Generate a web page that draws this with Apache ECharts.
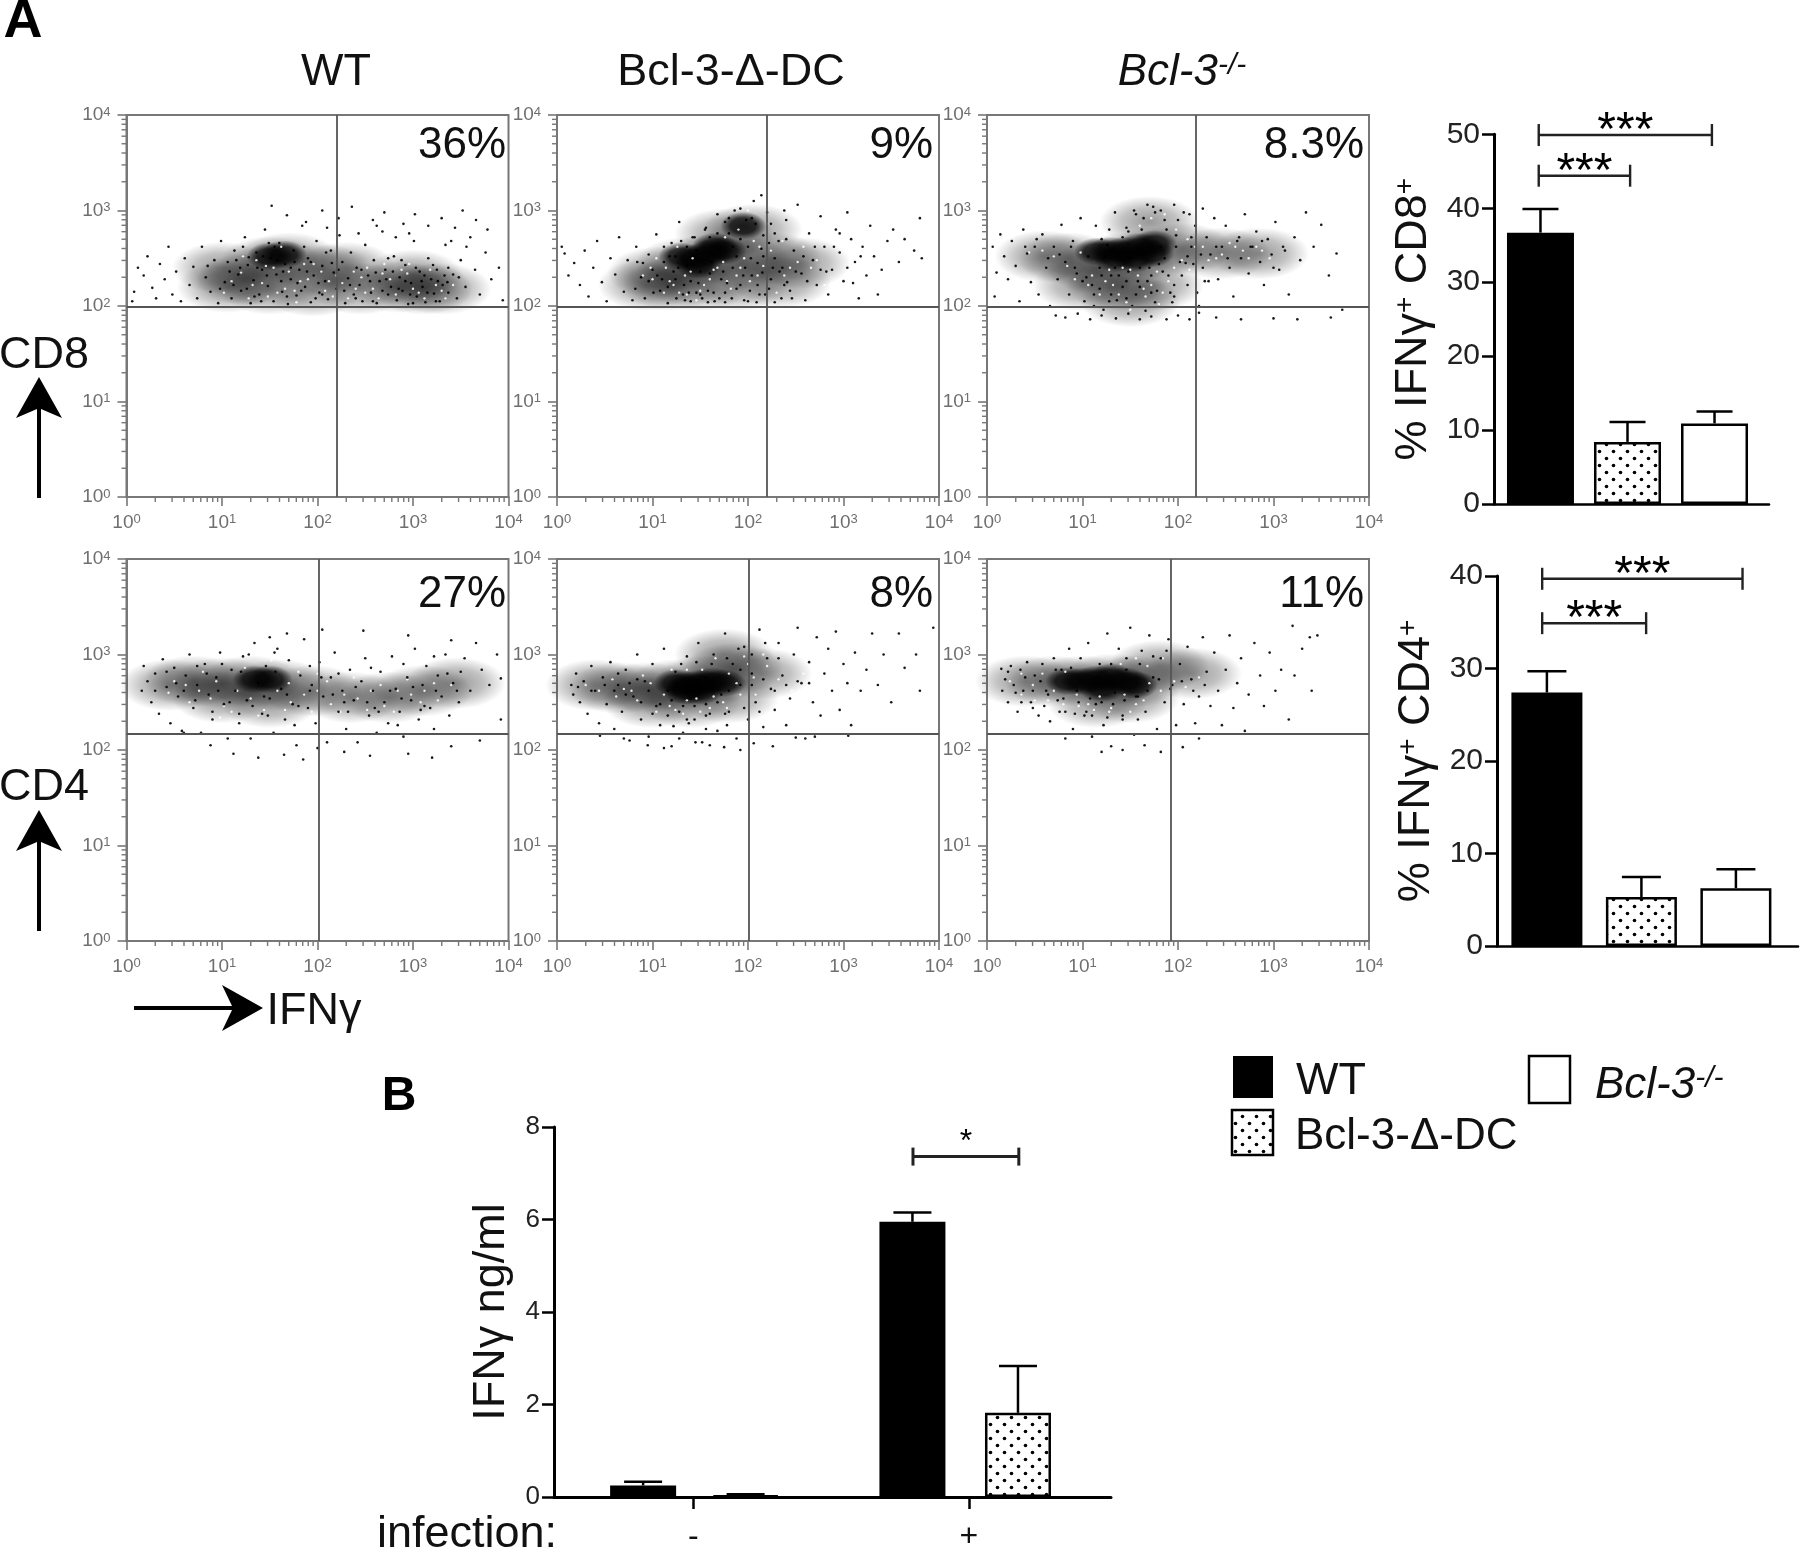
<!DOCTYPE html>
<html>
<head>
<meta charset="utf-8">
<style>html,body{margin:0;padding:0;background:#fff}#main{width:1800px;height:1548px}</style>
<script src="https://cdn.jsdelivr.net/npm/echarts@6/dist/echarts.min.js"></script>
</head>
<body>
<div id="main"></div>
<script>
// flow plots: points as [x, y] in hundredths of a decade (log10 x 100)
const wtCd8Haze = [[125,228],[150,246],[170,250],[205,238],[150,218],[195,216],[245,218],[285,220],[310,218],[330,218],[105,220],[100,240],[230,240],[300,232]];
const wtCd8Core = [[150,252],[165,254]];
const wtCd8Gaps = [[120,235],[132,222],[146,242],[158,214],[170,236],[182,226],[196,244],[208,216],[220,232],[232,208],[246,230],[258,218],[270,244],[282,212],[294,234],[306,214],[318,238],[330,216],[342,222],[110,226],[128,208],[142,224],[154,240],[166,218],[178,204],[190,228],[204,236],[216,210],[226,224],[238,236],[250,214],[264,208],[276,228],[288,238],[300,218],[312,208],[324,222],[102,214],[136,248],[162,262],[186,244],[122,252],[252,240],[296,244],[334,208],[148,210],[176,216],[212,226],[240,218],[268,234]];
const wtCd8Dots = [[8,215],[12,240],[6,205],[18,232],[22,252],[27,219],[31,208],[35,244],[40,228],[44,262],[48,212],[52,236],[57,205],[61,250],[66,222],[70,241],[74,208],[79,262],[83,230],[88,215],[92,248],[96,203],[99,268],
[103,225],[106,246],[110,208],[113,258],[117,233],[120,216],[124,272],[127,243],[130,203],[133,227],[136,256],[139,212],[142,238],[145,280],[148,221],[151,250],[154,205],[157,233],[160,266],[163,215],[166,244],[169,202],[172,228],[175,258],[178,211],[181,238],[184,284],[187,220],[190,250],[193,204],[196,232],[199,268],[202,214],[205,242],[208,226],[211,207],[214,258],[217,235],[220,218],[223,274],[226,246],[229,203],[232,229],[235,256],[238,212],
[241,240],[244,222],[247,205],[250,264],[253,232],[256,214],[259,248],[262,203],[265,226],[268,278],[271,238],[274,212],[277,220],[280,252],[283,206],[286,230],[289,216],[292,243],[295,202],[298,224],[301,268],[304,210],[307,236],[310,220],[313,204],[316,250],[319,228],[322,213],[325,238],[328,205],[331,222],[334,264],[337,214],
[342,233],[346,208],[350,248],[355,220],[360,272],[365,238],[370,212],[376,256],[382,228],[390,240],[394,206],
[152,305],[168,295],[188,288],[205,300],[222,292],[236,304],[258,290],[270,298],[290,286],[302,296],[316,284],[330,292],[344,282],[352,300],[366,290],[378,280],[210,282],[243,276],[262,284],[282,272],[296,276],[340,268],[356,262],
[112,222],[128,251],[141,205],[155,262],[119,240],[134,210],[147,232],[162,226],[176,246],[189,236],[201,224],[215,245],[228,216],[240,208],[255,226],[268,216],[279,236],[292,226],[303,240],[315,214],[326,226],[337,240],[209,256],[183,216],[168,210],[143,252],[126,218],[108,236],[98,218],[85,242],[246,238],[261,235],[274,250],[288,248],[300,203],[312,232],[324,205],[336,225],[348,230],[198,208],[222,238],[234,222],[258,205],[272,228],[285,218],[297,212],[309,226],[321,243],[333,232],[158,248],[172,240],[186,262],[193,246],[137,240],[122,262],[115,248],[149,266],[164,236],[179,224],[205,212]];

const dcCd8Haze = [[105,235],[135,245],[165,250],[195,245],[225,250],[150,222],[190,222],[205,280],[255,245],[120,222],[175,275],[95,222],[235,225]];
const dcCd8Core = [[130,252],[145,250],[160,255],[175,258],[148,243],[165,262],[195,284]];
const dcCd8Gaps = [[100,228],[114,240],[128,214],[140,236],[154,222],[168,240],[182,218],[196,250],[210,232],[224,258],[238,232],[252,246],[266,240],[280,222],[112,214],[126,262],[146,206],[160,228],[174,246],[188,232],[202,226],[216,242],[230,214],[244,240],[258,262],[272,248],[90,232],[104,250],[118,226],[134,232],[150,216],[164,238],[178,226],[192,240],[206,268],[220,286],[190,280],[176,272],[200,300],[212,262],[136,212],[98,240],[122,222],[142,250],[236,268]];
const dcCd8Dots = [[8,255],[12,232],[18,245],[5,262],[24,222],[29,258],[33,210],[38,240],[42,268],[47,225],[52,205],[56,250],[61,233],[65,272],[70,215],[74,248],[79,206],[83,262],[88,230],
[92,208],[96,254],[100,238],[104,275],[108,216],[112,246],[116,203],[120,266],[124,228],[128,288],[132,212],[136,242],[140,205],[144,272],[148,224],[152,208],[156,282],[160,234],[164,214],[168,296],[172,228],[176,204],[180,276],[184,240],[188,218],[192,302],[196,206],[200,262],[204,232],[208,286],[212,212],[216,252],[220,298],[224,228],[228,204],[232,268],
[236,240],[240,290],[244,216],[248,258],[252,306],[256,234],[260,206],[264,276],[268,248],[272,222],[276,294],[280,262],[284,212],[288,238],[292,280],[296,256],[300,226],[304,298],[308,270],[312,246],[316,208],[320,262],[324,232],[328,284],[332,252],[336,212],[340,238],[346,268],[352,280],[358,246],[364,270],[374,258],[380,292],[382,250],
[105,232],[118,252],[133,222],[146,258],[158,216],[171,260],[183,208],[197,240],[210,222],[222,266],[235,208],[198,290],[186,300],[206,310],[224,286],[238,300],[214,316],[176,288],[160,272],[143,244],[127,240],[110,228],[192,222],[203,250],[215,235],[228,250],[241,225],[178,224],[150,212],[125,208],[140,226],[165,205],[90,245],[82,218],[200,205],[218,212],
[112,262],[122,236],[138,214],[150,236],[162,246],[176,214],[188,252],[202,216],[214,260],[226,240],[238,222],[250,236],[262,226],[276,238],[290,262],[304,240],[318,252],[96,226],[84,246],[130,268],[142,272],[155,280],[168,276],[180,292],[192,270],[204,292],[216,274],[228,276],[240,270],[184,262],[174,236],[158,204],[146,214],[134,206],[116,220],[101,214],[209,204],[222,218],[233,236],[246,208],[258,252],[270,262],[282,236],[296,276],[310,224],[124,252],[136,262],[170,208],[195,232],[210,245]];

const koCd8Haze = [[85,250],[115,240],[145,250],[175,255],[205,260],[135,222],[175,222],[170,288],[245,255],[285,255],[100,222],[150,205],[60,252]];
const koCd8Core = [[115,257],[130,258],[145,258],[160,262],[175,265],[135,250],[155,250],[172,255]];
const koCd8Gaps = [[70,252],[84,242],[98,256],[110,232],[124,226],[138,212],[150,238],[164,218],[178,236],[190,226],[204,248],[218,262],[232,248],[246,254],[260,262],[274,250],[288,258],[58,258],[44,256],[118,212],[132,222],[146,204],[158,232],[172,222],[184,214],[196,240],[212,238],[120,276],[160,284],[172,292],[186,296],[198,280],[210,270],[226,262],[240,250],[254,266],[268,258],[282,262],[296,250],[92,228],[106,222],[128,238],[142,240],[166,210],[180,202],[150,196]];
const koCd8Dots = [[6,262],[10,235],[14,275],[8,210],[18,252],[22,228],[26,268],[30,242],[34,205],[38,280],[42,255],[46,225],[50,262],[54,212],[58,275],[62,240],[66,200],[70,262],[74,228],[78,285],[82,246],
[86,212],[90,268],[94,234],[98,292],[102,205],[106,252],[110,222],[114,284],[118,240],[122,196],[126,264],[130,212],[134,298],[138,232],[142,272],[146,208],[150,250],[154,300],[158,226],[162,280],[166,195],[170,240],[174,304],[178,216],[182,262],[186,290],[190,232],[194,204],[198,274],[202,246],[206,298],[210,222],[214,262],[218,284],[222,200],[226,240],
[230,272],[234,254],[238,292],[242,228],[246,262],[250,284],[254,240],[258,210],[262,268],[266,250],[270,296],[274,234],[278,262],[282,278],[286,246],[290,222],[294,270],[298,254],[302,288],[306,238],[310,262],[316,212],[322,272],[328,248],[334,298],[342,262],[350,285],[358,232],[366,255],[372,196],
[72,190],[82,188],[95,192],[108,186],[120,190],[135,187],[148,192],[160,186],[172,189],[188,186],[200,190],[212,186],[222,193],[240,188],[266,186],[300,187],[325,186],[360,188],
[100,226],[112,212],[124,252],[136,206],[148,236],[160,220],[172,214],[184,236],[196,222],[208,245],[220,214],[232,226],[156,296],[168,306],[182,300],[196,306],[212,296],[226,302],[146,282],[128,280],
[92,240],[104,230],[118,218],[130,232],[142,220],[156,212],[168,226],[180,244],[192,214],[204,232],[216,244],[228,226],[240,262],[252,250],[264,272],[276,262],[288,268],[300,240],[312,258],[88,262],[76,254],[64,250],[52,270],[40,262],[120,270],[148,278],[164,292],[176,298],[188,280],[200,290],[214,272],[152,200],[128,205],[112,200],[176,204],[196,210],[120,232],[134,240],[146,226],[160,240],[172,232],[186,250],[198,262],[210,252],[224,254]];

const wtCd4Haze = [[70,272],[100,270],[130,272],[160,268],[195,262],[235,255],[275,255],[310,262],[100,255],[150,250],[45,268],[345,270]];
const wtCd4Core = [[135,274],[150,274]];
const wtCd4Gaps = [[50,272],[62,268],[76,262],[88,254],[102,246],[116,262],[130,254],[144,242],[158,262],[172,250],[186,258],[200,262],[214,248],[228,258],[242,254],[256,262],[270,246],[284,262],[298,258],[312,262],[326,252],[340,268],[80,282],[94,272],[110,240],[124,286],[138,236],[152,294],[166,242],[180,282],[194,240],[210,272],[224,240],[238,276],[252,242],[266,268],[280,240],[294,274],[308,250],[322,270],[66,250],[44,260],[98,234],[170,270],[200,280]];
const wtCd4Dots = [[16,262],[18,288],[22,272],[26,250],[30,280],[34,238],[38,295],[42,266],[46,228],[50,286],[54,256],[58,220],[62,278],[66,300],[70,244],[74,268],[78,218],[82,290],[86,258],[90,232],[94,276],[98,302],[102,248],[106,212],[110,284],
[114,262],[118,228],[122,298],[126,252],[130,212],[134,312],[138,270],[142,238],[146,288],[150,254],[154,218],[158,306],[162,264],[166,232],[170,294],[174,248],[178,205],[182,278],[186,316],[190,244],[194,268],[198,228],[202,292],[206,256],[210,208],[214,276],[218,302],[222,240],[226,262],[230,222],[234,284],[238,252],
[242,208],[246,272],[250,296],[254,236],[258,262],[262,218],[266,282],[270,250],[274,228],[278,298],[282,264],[286,240],[290,214],[294,276],[298,252],[302,306],[306,232],[310,268],[314,288],[318,244],[322,222],[326,278],[330,256],[334,300],[338,236],[342,270],[348,250],[354,296],[360,262],[366,312],[372,284],[380,268],[388,300],[392,275],
[60,218],[88,205],[112,196],[138,192],[165,195],[185,190],[200,202],[228,198],[255,194],[295,196],[320,192],[340,204],[370,210],[392,232],[248,325],[295,320],[340,315],[205,326],[168,322],[150,318],
[60,262],[72,252],[84,280],[96,262],[108,250],[120,282],[132,246],[144,256],[156,282],[168,258],[180,246],[192,262],[204,276],[216,258],[228,250],[240,266],[252,250],[264,240],[276,262],[288,254],[300,266],[312,246],[324,262],[336,280],[346,262],[90,240],[118,238],[148,236],[176,226],[232,240],[260,244],[284,226],[308,242],[100,290],[128,300],[155,302],[52,270],[42,282],[30,262],[74,288],[192,288],[222,280],[256,286],[290,290],[322,298],[350,282]];

const dcCd4Haze = [[65,265],[95,265],[125,268],[155,272],[185,285],[215,280],[140,250],[100,250],[180,255],[40,268],[175,300]];
const dcCd4Core = [[125,270],[138,268],[150,270],[162,272],[174,270],[135,262],[150,262]];
const dcCd4Gaps = [[30,268],[44,262],[58,274],[70,264],[84,252],[98,270],[112,258],[124,242],[136,252],[150,240],[164,256],[178,244],[192,258],[206,276],[220,288],[180,280],[166,296],[196,298],[208,258],[232,274],[246,262],[258,280],[90,278],[104,240],[118,246],[132,238],[146,254],[160,244],[174,250],[188,270],[200,290],[78,262],[62,256],[216,300],[152,284],[136,284],[120,284]];
const dcCd4Dots = [[15,268],[17,258],[20,280],[24,250],[28,272],[32,238],[36,288],[40,262],[44,228],[48,276],[52,248],[56,292],[60,222],[64,268],[68,240],[72,284],[76,210],[80,256],[84,300],[88,232],
[92,272],[96,214],[100,290],[104,246],[108,226],[112,306],[116,262],[120,204],[124,282],[128,240],[132,218],[136,298],[140,254],[144,232],[148,312],[152,208],[156,276],[160,238],[164,300],[168,220],[172,258],[176,322],[180,240],[184,290],[188,212],[192,268],[196,308],[200,232],[204,280],[208,250],[212,326],[216,224],[220,296],[224,264],[228,242],
[232,312],[236,278],[240,226],[244,254],[248,300],[252,328],[256,270],[260,212],[264,292],[268,250],[272,318],[276,236],[280,280],[284,306],[288,262],[292,324],[296,242],[300,290],[304,270],[308,226],[312,302],[318,262],[324,284],[330,322],[336,268],[342,300],[350,250],[358,322],[364,286],[376,300],[380,262],[394,328],
[45,215],[70,212],[95,205],[112,202],[128,212],[145,208],[160,205],[175,203],[192,200],[206,207],[226,204],[250,213],[270,214],[305,215],[122,225],[138,228],[156,222],[178,226],
[60,262],[72,258],[84,274],[96,262],[108,248],[120,252],[132,246],[144,246],[156,248],[168,250],[180,262],[192,284],[204,268],[216,274],[228,262],[240,268],[252,272],[264,270],[130,290],[146,292],[162,290],[178,296],[190,306],[204,300],[218,312],[232,296],[100,238],[116,236],[136,232],[156,236],[176,238],[196,244],[212,240],[88,250],[76,270],[64,280],[50,268],[36,262],[22,266]];

const koCd4Haze = [[40,272],[70,272],[100,272],[130,274],[155,272],[180,288],[115,250],[150,255],[215,280]];
const koCd4Core = [[85,272],[100,272],[115,274],[130,276],[145,272],[155,268],[120,265]];
const koCd4Gaps = [[24,272],[36,280],[48,268],[58,280],[70,262],[82,282],[94,258],[106,248],[118,256],[130,244],[144,258],[156,248],[170,270],[182,262],[196,272],[208,266],[222,276],[140,290],[156,296],[168,288],[184,296],[128,240],[112,242],[96,246],[80,248],[64,252],[50,252],[36,258],[150,240],[164,252]];
const koCd4Dots = [[15,285],[16,262],[19,274],[22,250],[25,288],[28,268],[32,240],[35,284],[38,262],[42,292],[46,250],[50,278],[54,236],[58,290],[62,262],[66,230],[70,296],[74,252],[78,284],[82,240],[86,306],[90,222],
[94,262],[98,296],[102,236],[106,312],[110,214],[114,248],[118,290],[122,226],[126,322],[130,204],[134,260],[138,306],[142,232],[146,284],[150,328],[154,216],[158,256],[162,304],[166,240],[170,320],[174,276],[178,222],[182,296],[186,250],[190,316],[194,268],[198,226],[202,290],[206,248],[210,308],[214,274],[218,228],[222,256],[226,318],[230,282],[234,246],
[238,302],[242,262],[246,226],[250,284],[254,320],[258,244],[262,270],[266,296],[270,220],[274,258],[280,312],[286,278],[290,246],[296,302],[302,262],[308,284],[316,232],[322,278],[330,306],[340,262],[346,320],[320,330],[338,318],[82,212],[120,198],[142,200],[165,205],[182,198],[205,203],[222,212],
[22,282],[30,260],[40,276],[48,262],[56,272],[64,258],[72,284],[80,254],[88,286],[96,250],[108,254],[120,250],[132,248],[144,252],[156,256],[168,262],[180,274],[192,264],[204,272],[216,262],[228,268],[130,290],[146,296],[160,290],[174,298],[188,304],[110,236],[126,234],[142,236],[158,232],[104,240],[92,238],[76,240],[60,246],[48,244],[36,250]];

// decade labels and log minor ticks of the flow axes
const decadeTicks = [1, 10, 100, 1000, 10000];
const minorTicks = [2,3,4,5,6,7,8,9,20,30,40,50,60,70,80,90,200,300,400,500,600,700,800,900,2000,3000,4000,5000,6000,7000,8000,9000];

// quadrant gates [vertical, horizontal] per flow plot
const gates = [[158,97.5],[158,97.5],[154,97.5],[102,148],[102,148],[84,148]];
const percents = ['36%','9%','8.3%','27%','8%','11%'];

// bar charts
const groups = ['WT', 'Bcl-3-Δ-DC', 'Bcl-3-/-'];
const cd8Means = [36.7, 8.4, 10.9];
const cd8Upper = [39.9, 11.1, 12.5];
const cd4Means = [27.4, 5.3, 6.25];
const cd4Upper = [29.7, 7.45, 8.3];
const infection = ['-', '+'];
const infectionTicks = [0, 0.99];
const ifnWtAt = [-0.18, 0.787];
const ifnWt = [0.25, 5.95];
const ifnWtUpper = [0.33, 6.15];
const ifnDcAt = [0.188, 1.166];
const ifnDc = [0.03, 1.82];
const ifnDcUpper = [0.06, 2.83];

// significance brackets [from, to, height, stars]
const cd8Brackets = [[-0.02, 1.97, 49.9, '***'], [-0.02, 1.03, 44.4, '***']];
const cd4Brackets = [[-0.05, 2.07, 39.7, '***'], [-0.05, 1.05, 34.9, '***']];
const ifnBrackets = [[0.789, 1.169, 7.36, '*']];

const SANS = '"Liberation Sans", Arial, sans-serif';
const GREY = '#6f6f6f';

// dotted fill used for Bcl-3-Δ-DC
function dotTile() {
  const c = document.createElement('canvas');
  c.width = 14; c.height = 14;
  const ctx = c.getContext('2d');
  ctx.fillStyle = '#fff';
  ctx.fillRect(0, 0, 14, 14);
  ctx.fillStyle = '#000';
  [[3.5, 3.5], [10.5, 10.5]].forEach(p => {
    ctx.beginPath();
    ctx.arc(p[0], p[1], 1.8, 0, Math.PI * 2);
    ctx.fill();
  });
  return c;
}
const dotted = { image: dotTile(), repeat: 'repeat' };
const barFills = ['#000', dotted, '#fff'];

const grid = [], xAxis = [], yAxis = [], series = [];

function decades(list) {
  return list.map(p => [Math.pow(10, p[0] / 100), Math.pow(10, p[1] / 100)]);
}

function softFill(inner, mid) {
  return {
    type: 'radial', x: 0.5, y: 0.5, r: 0.5,
    colorStops: [{ offset: 0, color: `rgba(0,0,0,${inner})` }, { offset: 0.55, color: `rgba(0,0,0,${mid})` }, { offset: 1, color: 'rgba(0,0,0,0)' }]
  };
}

function flowPanel(left, top, haze, core, gaps, dots, gate) {
  const i = grid.length;
  grid.push({ left, top, width: 382, height: 382, outerBoundsMode: 'none', show: true, borderColor: '#777', borderWidth: 2, backgroundColor: 'transparent' });
  const axis = {
    gridIndex: i, type: 'log', logBase: 10, min: 1, max: 10000, splitLine: { show: false }, minorTick: { show: false },
    axisLine: { lineStyle: { color: '#777', width: 2 } },
    axisTick: { length: 9, lineStyle: { color: '#777', width: 1.6 } },
    axisLabel: {
      margin: 16, color: GREY, fontFamily: SANS, fontSize: 19,
      formatter: v => `{b|10}{s|${decadeTicks.indexOf(Math.round(v))}}`,
      rich: {
        b: { fontSize: 19, color: GREY, fontFamily: SANS },
        s: { fontSize: 13, color: GREY, fontFamily: SANS, verticalAlign: 'top' }
      }
    }
  };
  xAxis.push(axis);
  yAxis.push(axis);
  const layer = (symbolSize, data, itemStyle) => ({ type: 'scatter', xAxisIndex: i, yAxisIndex: i, silent: true, symbolSize, data: decades(data), itemStyle });
  series.push(layer([100, 52], haze, { color: softFill(0.5, 0.3) }));
  series.push(layer([46, 28], core, { color: softFill(1, 0.9) }));
  series.push(layer(2.4, gaps, { color: '#fff', opacity: 0.85 }));
  series.push(Object.assign(layer(2.6, dots, { color: '#000', opacity: 0.9 }), {
    markLine: {
      silent: true, symbol: 'none', animation: false, label: { show: false },
      lineStyle: { color: '#555', width: 1.8, type: 'solid' },
      data: [{ xAxis: gate[0] }, { yAxis: gate[1] }]
    }
  }));
  series.push({
    type: 'custom', xAxisIndex: i, yAxisIndex: i, silent: true, clip: false, data: minorTicks.map(v => [v, v]),
    renderItem(params, api) {
      const a = api.coord([api.value(0), 1]);
      const b = api.coord([1, api.value(1)]);
      const style = { stroke: '#777', lineWidth: 1.4 };
      return {
        type: 'group', children: [
          { type: 'line', shape: { x1: a[0], y1: a[1], x2: a[0], y2: a[1] + 5 }, style },
          { type: 'line', shape: { x1: b[0], y1: b[1], x2: b[0] - 5, y2: b[1] }, style }
        ]
      };
    }
  });
}

flowPanel(126.5, 115, wtCd8Haze, wtCd8Core, wtCd8Gaps, wtCd8Dots, gates[0]);
flowPanel(557, 115, dcCd8Haze, dcCd8Core, dcCd8Gaps, dcCd8Dots, gates[1]);
flowPanel(987, 115, koCd8Haze, koCd8Core, koCd8Gaps, koCd8Dots, gates[2]);
flowPanel(126.5, 559, wtCd4Haze, wtCd4Core, wtCd4Gaps, wtCd4Dots, gates[3]);
flowPanel(557, 559, dcCd4Haze, dcCd4Core, dcCd4Gaps, dcCd4Dots, gates[4]);
flowPanel(987, 559, koCd4Haze, koCd4Core, koCd4Gaps, koCd4Dots, gates[5]);

function barYAxis(i, max, interval, fontSize, name, nameGap, nameSize) {
  return {
    gridIndex: i, type: 'value', min: 0, max, interval, splitLine: { show: false },
    axisLine: { show: true, onZero: false, lineStyle: { color: '#000', width: 3 } },
    axisTick: { show: true, length: 12, lineStyle: { color: '#000', width: 2.5 } },
    axisLabel: { margin: 14, fontSize, color: '#222', fontFamily: SANS },
    name, nameLocation: 'middle', nameGap, nameRotate: 90, nameMoveOverlap: false,
    nameTextStyle: {
      fontSize: nameSize, color: '#111', fontFamily: SANS,
      rich: {
        a: { fontSize: nameSize, color: '#111', fontFamily: SANS },
        s: { fontSize: 28, color: '#111', fontFamily: SANS, verticalAlign: 'top' }
      }
    }
  };
}

function errorSeries(i, xs, means, uppers, capHalf) {
  return {
    type: 'custom', xAxisIndex: i, yAxisIndex: i, silent: true, z: 1, clip: false,
    data: xs.map((x, k) => [x, means[k], uppers[k]]),
    renderItem(params, api) {
      const base = api.coord([api.value(0), api.value(1)]);
      const tip = api.coord([api.value(0), api.value(2)]);
      const style = { stroke: '#000', lineWidth: 2.5 };
      return {
        type: 'group', children: [
          { type: 'line', shape: { x1: base[0], y1: base[1], x2: base[0], y2: tip[1] }, style },
          { type: 'line', shape: { x1: base[0] - capHalf, y1: tip[1], x2: base[0] + capHalf, y2: tip[1] }, style }
        ]
      };
    }
  };
}

function bracketSeries(i, rows, starSize, starLift, lineWidth) {
  return {
    type: 'custom', xAxisIndex: i, yAxisIndex: i, silent: true, clip: false, z: 3,
    data: rows.map(r => [r[0], r[1], r[2]]),
    renderItem(params, api) {
      const a = api.coord([api.value(0), api.value(2)]);
      const b = api.coord([api.value(1), api.value(2)]);
      const style = { stroke: '#222', lineWidth };
      const h = starSize > 40 ? 11 : 9;
      return {
        type: 'group', children: [
          { type: 'line', shape: { x1: a[0], y1: a[1], x2: b[0], y2: a[1] }, style },
          { type: 'line', shape: { x1: a[0], y1: a[1] - h, x2: a[0], y2: a[1] + h }, style },
          { type: 'line', shape: { x1: b[0], y1: a[1] - h, x2: b[0], y2: a[1] + h }, style },
          {
            type: 'text', style: {
              text: rows[params.dataIndex][3], x: (a[0] + b[0]) / 2, y: a[1] + starLift,
              font: `${starSize}px ${SANS}`, fill: '#000', align: 'center', verticalAlign: 'middle'
            }
          }
        ]
      };
    }
  };
}

function groupBars(left, top, width, height, xMin, xMax, yMax, means, uppers, brackets, name, capHalf, barWidth) {
  const i = grid.length;
  grid.push({ left, top, width, height, outerBoundsMode: 'none' });
  xAxis.push({ gridIndex: i, type: 'value', min: xMin, max: xMax, axisLabel: { show: false }, axisTick: { show: false }, splitLine: { show: false }, axisLine: { onZero: false, lineStyle: { color: '#000', width: 2.5 } } });
  yAxis.push(barYAxis(i, yMax, 10, 30, name, 58, 45));
  series.push({
    type: 'bar', xAxisIndex: i, yAxisIndex: i, barWidth, silent: true, z: 2,
    data: means.map((v, k) => ({ value: [k, v], itemStyle: { color: barFills[k], borderColor: '#000', borderWidth: 2.5 } }))
  });
  series.push(errorSeries(i, [0, 1, 2], means, uppers, capHalf));
  series.push(bracketSeries(i, brackets, 48, -3, 2.4));
}

groupBars(1494, 134.3, 275, 369.7, -0.534, 2.626, 50, cd8Means, cd8Upper, cd8Brackets, '{a|% IFNγ}{s|+}{a| CD8}{s|+}', 18, 67);
groupBars(1497, 576, 301, 370, -0.528, 2.657, 40, cd4Means, cd4Upper, cd4Brackets, '{a|% IFNγ}{s|+}{a| CD4}{s|+}', 19.5, 71);

// panel B: bars sit at their read-off x, the two group ticks carry the labels
(function () {
  const i = grid.length;
  grid.push({ left: 554, top: 1127, width: 557, height: 370, outerBoundsMode: 'none' });
  xAxis.push({
    gridIndex: i, type: 'value', min: -0.5, max: 1.5, splitLine: { show: false },
    axisLine: { onZero: false, lineStyle: { color: '#000', width: 3 } },
    axisTick: { customValues: infectionTicks, length: 12, lineStyle: { color: '#000', width: 2.5 } },
    axisLabel: { customValues: infectionTicks, margin: 24, fontSize: 32, color: '#111', fontFamily: SANS, formatter: v => infection[infectionTicks.indexOf(v)] }
  });
  yAxis.push(barYAxis(i, 8, 2, 26, 'IFNγ ng/ml', 40, 45));
  const pairs = (at, vals) => vals.map((v, k) => [at[k], v]);
  series.push({ type: 'bar', name: groups[0], xAxisIndex: i, yAxisIndex: i, barWidth: 66, barGap: '-100%', silent: true, z: 2, data: pairs(ifnWtAt, ifnWt), itemStyle: { color: '#000', borderColor: '#000', borderWidth: 2.5 } });
  series.push({ type: 'bar', name: groups[1], xAxisIndex: i, yAxisIndex: i, barWidth: 66, barGap: '-100%', silent: true, z: 2, data: pairs(ifnDcAt, ifnDc), itemStyle: { color: dotted, borderColor: '#000', borderWidth: 2.5 } });
  series.push(errorSeries(i, ifnWtAt, ifnWt, ifnWtUpper, 19));
  series.push(errorSeries(i, ifnDcAt, ifnDc, ifnDcUpper, 19));
  series.push(bracketSeries(i, ifnBrackets, 32, -14, 3));
})();

function label(text, x, y, font, extra) {
  return { type: 'text', silent: true, style: Object.assign({ text, x, y, font, fill: '#111', align: 'center', verticalAlign: 'middle' }, extra || {}) };
}
const bigFont = `45px ${SANS}`;
const koRich = {
  i: { font: `italic 44px ${SANS}`, fill: '#111' },
  s: { font: `italic 30px ${SANS}`, fill: '#111', verticalAlign: 'top' }
};
const graphic = [
  label('A', 23, 22, `bold 54px ${SANS}`, { fill: '#000' }),
  label('B', 399, 1097, `bold 48px ${SANS}`, { fill: '#000' }),
  label(groups[0], 336, 73, bigFont),
  label(groups[1], 731, 73, bigFont),
  label('{i|Bcl-3}{s|-/-}', 1182, 73, '', { rich: koRich }),
  label('CD8', 44, 356, bigFont),
  label('CD4', 44, 788, bigFont),
  label('IFNγ', 314, 1012, bigFont),
  label('infection:', 467, 1535, `45px ${SANS}`),
  // arrows
  { type: 'polygon', silent: true, shape: { points: [[37,498],[41,498],[41,409],[62,418],[39,377],[16,418],[37,409]] }, style: { fill: '#000' } },
  { type: 'polygon', silent: true, shape: { points: [[37,931],[41,931],[41,842],[62,851],[39,810],[16,851],[37,842]] }, style: { fill: '#000' } },
  { type: 'polygon', silent: true, shape: { points: [[134,1006],[232,1006],[222,985],[263,1008],[222,1031],[232,1010],[134,1010]] }, style: { fill: '#000' } },
  // legend
  { type: 'rect', silent: true, shape: { x: 1233, y: 1056, width: 40, height: 42 }, style: { fill: '#000' } },
  { type: 'rect', silent: true, shape: { x: 1232, y: 1110, width: 41, height: 45 }, style: { fill: dotted, stroke: '#000', lineWidth: 2.5 } },
  { type: 'rect', silent: true, shape: { x: 1529, y: 1056, width: 41, height: 47 }, style: { fill: '#fff', stroke: '#000', lineWidth: 2.5 } },
  label(groups[0], 1296, 1082, bigFont, { align: 'left' }),
  label(groups[1], 1295, 1137, `44px ${SANS}`, { align: 'left' }),
  label('{i|Bcl-3}{s|-/-}', 1595, 1086, '', { rich: koRich, align: 'left' })
];
const pctAt = [[506,146],[933,146],[1364,146],[506,595],[933,595],[1364,595]];
percents.forEach((p, k) => graphic.push(label(p, pctAt[k][0], pctAt[k][1], `44px ${SANS}`, { align: 'right' })));

const chart = echarts.init(document.getElementById('main'), null, { renderer: 'canvas' });
chart.setOption({ animation: false, backgroundColor: '#fff', grid, xAxis, yAxis, series, graphic });
</script>
</body>
</html>
